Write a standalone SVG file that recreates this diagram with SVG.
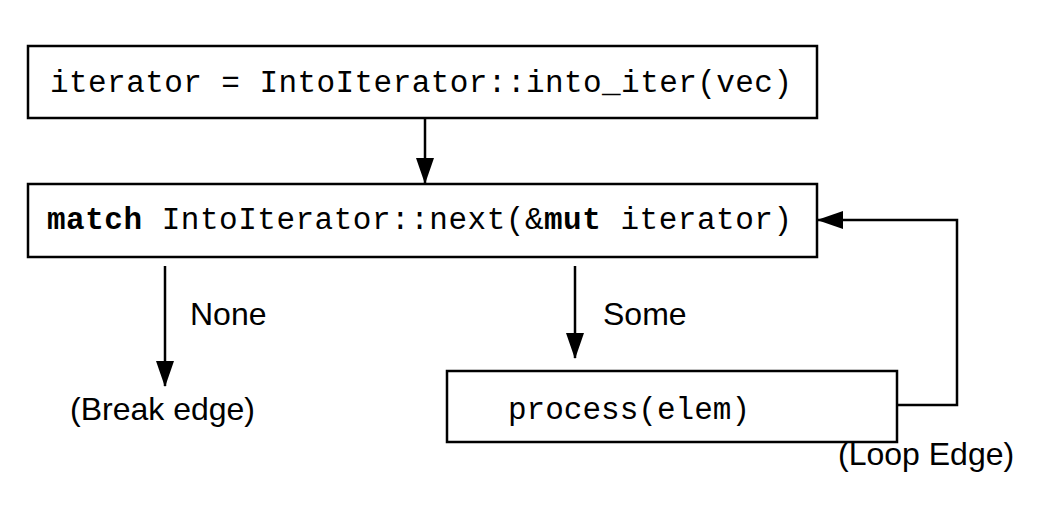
<svg xmlns="http://www.w3.org/2000/svg" width="1044" height="512" viewBox="0 0 1044 512">
<defs>
<style>
.box{fill:#fff;stroke:#000;stroke-width:2.5}
.code{font-family:"Liberation Mono","Courier New",monospace;font-size:31px;fill:#000}
.lbl{font-family:"Liberation Sans",Arial,sans-serif;font-size:32px;fill:#000}
.edge{fill:none;stroke:#000;stroke-width:2.5}
</style>
<marker id="ahv" markerWidth="26" markerHeight="18" refX="25" refY="9" orient="auto" markerUnits="userSpaceOnUse" viewBox="0 0 26 18">
<path d="M0,0 L26,9 L0,18 Z" fill="#000"/>
</marker>
</defs>
<g id="n1">
<rect class="box" x="28" y="46" width="789" height="72"/>
<text class="code" x="50" y="92" textLength="742" lengthAdjust="spacing">iterator = IntoIterator::into_iter(vec)</text>
</g>
<g id="n2">
<rect class="box" x="28" y="184" width="789" height="73"/>
<text class="code" x="47" y="229" textLength="745" lengthAdjust="spacing"><tspan font-weight="bold">match</tspan> IntoIterator::next(&amp;<tspan font-weight="bold">mut</tspan> iterator)</text>
</g>
<g id="n3">
<rect class="box" x="447" y="371" width="450" height="71"/>
<text class="code" x="508" y="419" textLength="242" lengthAdjust="spacing">process(elem)</text>
</g>
<g id="connectors">
<line class="edge" x1="425" y1="118" x2="425" y2="183" marker-end="url(#ahv)"/>
<line class="edge" x1="165" y1="266" x2="165" y2="386" marker-end="url(#ahv)"/>
<line class="edge" x1="575" y1="266" x2="575" y2="358" marker-end="url(#ahv)"/>
<polyline class="edge" points="897,405 957,405 957,220 818,220" marker-end="url(#ahv)"/>
</g>
<g id="labels">
<text class="lbl" x="190" y="325">None</text>
<text class="lbl" x="70" y="420">(Break edge)</text>
<text class="lbl" x="603" y="325">Some</text>
<text class="lbl" x="838" y="465">(Loop Edge)</text>
</g>
</svg>
